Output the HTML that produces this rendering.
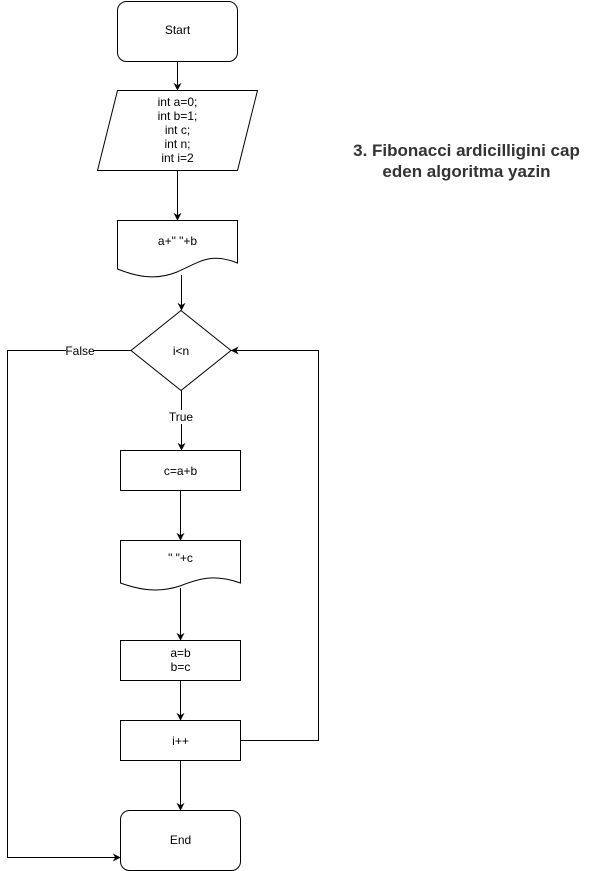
<!DOCTYPE html>
<html><head><meta charset="utf-8"><style>
html,body{margin:0;padding:0;background:#fff;}
svg{display:block;}
text{font-family:"Liberation Sans",Arial,sans-serif;font-size:12px;fill:#000;}
</style></head><body>
<svg width="608" height="871" viewBox="0 0 608 871" xmlns="http://www.w3.org/2000/svg">
<defs>
<marker id="a" viewBox="0 0 10 10" refX="9" refY="5" markerWidth="8" markerHeight="8" orient="auto" markerUnits="userSpaceOnUse">
<path d="M0,0 L10,5 L0,10 L3,5 z" fill="#000"/>
</marker>
</defs>
<g fill="#fff" stroke="#000" stroke-width="1">
<rect x="117.5" y="1.5" width="120" height="60" rx="9"/>
<polygon points="117.5,90.5 257.5,90.5 237.5,170.5 97.5,170.5"/>
<path d="M117.5,220.5 H237.5 V263 C210,252 200,262 177,272 C155,281 135,276 117.5,269 Z"/>
<polygon points="181,310.5 231,350.5 181,390.5 131,350.5"/>
<rect x="120.5" y="450.5" width="120" height="40"/>
<path d="M120.5,540.5 H240.5 V583 C215,574 200,578 180,586 C158,593 140,590 120.5,583 Z"/>
<rect x="120.5" y="640.5" width="120" height="40"/>
<rect x="120.5" y="720.5" width="120" height="40"/>
<rect x="120.5" y="810.5" width="120" height="60" rx="9"/>
</g>
<g fill="none" stroke="#000" stroke-width="1">
<line x1="177.5" y1="61.5" x2="177.5" y2="90" marker-end="url(#a)"/>
<line x1="177.5" y1="170.5" x2="177.5" y2="220" marker-end="url(#a)"/>
<line x1="181.5" y1="275" x2="181.5" y2="310" marker-end="url(#a)"/>
<line x1="181.5" y1="390.5" x2="181.5" y2="450" marker-end="url(#a)"/>
<line x1="180.5" y1="490.5" x2="180.5" y2="540" marker-end="url(#a)"/>
<line x1="180.5" y1="588" x2="180.5" y2="640" marker-end="url(#a)"/>
<line x1="180.5" y1="680.5" x2="180.5" y2="720" marker-end="url(#a)"/>
<line x1="180.5" y1="760.5" x2="180.5" y2="810" marker-end="url(#a)"/>
<polyline points="240.5,740.5 318.5,740.5 318.5,350.5 231.5,350.5" marker-end="url(#a)"/>
<polyline points="131,350.5 7.5,350.5 7.5,857.5 120,857.5" marker-end="url(#a)"/>
</g>
<rect x="66" y="344" width="28" height="13" fill="#fff"/>
<text x="80" y="355" font-size="11" text-anchor="middle">False</text>
<rect x="167" y="410" width="28" height="14" fill="#fff"/>
<text x="181" y="421" font-size="11" text-anchor="middle">True</text>
<g text-anchor="middle">
<text x="177.5" y="34">Start</text>
<text x="177.5" y="106">int a=0;</text>
<text x="177.5" y="120">int b=1;</text>
<text x="177.5" y="134">int c;</text>
<text x="177.5" y="148">int n;</text>
<text x="177.5" y="162">int i=2</text>
<text x="177.5" y="245">a+" "+b</text>
<text x="181" y="355">i&lt;n</text>
<text x="180.5" y="475">c=a+b</text>
<text x="180.5" y="562">" "+c</text>
<text x="180.5" y="657">a=b</text>
<text x="180.5" y="671">b=c</text>
<text x="180.5" y="745">i++</text>
<text x="180.5" y="844">End</text>
<text x="466.5" y="156" style="font-size:17px;font-weight:bold;fill:#333">3. Fibonacci ardicilligini cap</text>
<text x="466.5" y="177" style="font-size:17px;font-weight:bold;fill:#333">eden algoritma yazin</text>
</g>
</svg>
</body></html>
